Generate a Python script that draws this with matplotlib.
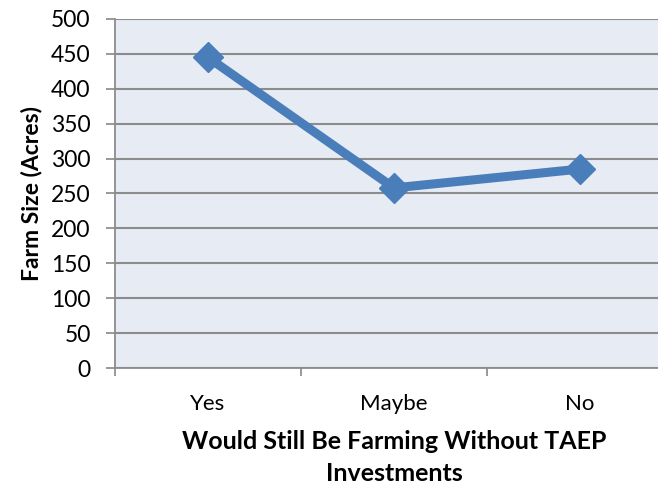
import matplotlib.pyplot as plt

categories = ["Yes", "Maybe", "No"]
farm_size = [445, 258, 285]
y_ticks = [0, 50, 100, 150, 200, 250, 300, 350, 400, 450, 500]

plt.rcParams['font.family'] = ['Lato', 'DejaVu Sans']

fig = plt.figure(figsize=(6.58, 4.86), dpi=100)
# plot area runs past the right edge of the figure
ax = fig.add_axes([115 / 658, 1 - 368 / 486, 558 / 658, 349 / 486])
ax.set_facecolor('#E6EBF4')

x = list(range(len(categories)))
ax.plot(x, farm_size, color='#4A7EBB', linewidth=6.5, marker='D',
        markersize=15, solid_capstyle='round', zorder=3)

ax.set_xlim(-0.5, len(categories) - 0.5)
ax.set_ylim(0, 500)
ax.set_yticks(y_ticks)
ax.set_xticks([i - 0.5 for i in range(len(categories) + 1)])
ax.set_xticklabels([])
ax.set_xticks(x, minor=True)
ax.set_xticklabels(categories, minor=True)
ax.tick_params(axis='x', which='minor', length=0, pad=19, labelsize=16)
ax.tick_params(axis='x', which='major', length=6, color='#888888', width=1.2)
ax.tick_params(axis='y', length=6.5, color='#888888', width=1.2, labelsize=16.5, pad=11)

ax.grid(axis='y', color='#8C8C8C', linewidth=1.5)
ax.set_axisbelow(True)
for side in ['top', 'right']:
    ax.spines[side].set_visible(False)
for side in ['left', 'bottom']:
    ax.spines[side].set_color('#8C8C8C')
    ax.spines[side].set_linewidth(1.3)

ax.set_ylabel("Farm Size (Acres)", fontsize=16.5, fontweight='bold', labelpad=6)
ax.set_xlabel("Would Still Be Farming Without TAEP\nInvestments", fontsize=18,
              fontweight='bold', labelpad=11, linespacing=1.5)

fig.savefig("out.png", dpi=100)
